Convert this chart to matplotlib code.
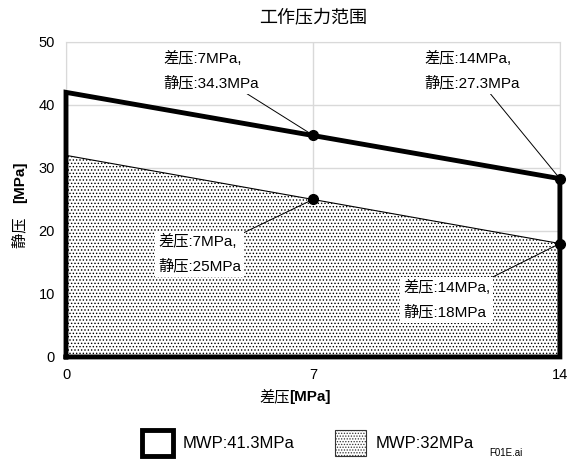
import matplotlib.pyplot as plt
import matplotlib.patches as mpatches
import numpy as np

plt.rcParams['font.family'] = ['Liberation Sans', 'Noto Sans CJK SC']
plt.rcParams['hatch.linewidth'] = 0.6

# data
DP = [0, 7, 14]                 # 差压 MPa
SP_HI = [42, 35.2, 28.3]        # MWP 41.3MPa line
SP_LO = [32, 25, 18]            # MWP 32MPa line
LABELS_HI = ['差压:7MPa,\n静压:34.3MPa', '差压:14MPa,\n静压:27.3MPa']
LABELS_LO = ['差压:7MPa,\n静压:25MPa', '差压:14MPa,\n静压:18MPa']
LEG = ['MWP:41.3MPa', 'MWP:32MPa']

H = 466
fig = plt.figure(figsize=(5.79, 4.66), dpi=100)
ax = fig.add_axes([0.114, 0.234, 0.853, 0.676])

ax.set_xlim(0, 14)
ax.set_ylim(0, 50)
ax.set_xticks([0, 7, 14])
ax.set_yticks(np.arange(0, 51, 10))
ax.tick_params(length=0, labelsize=10.5, pad=8)
ax.grid(color='#d9d9d9', linewidth=1)
ax.set_axisbelow(True)
for s in ax.spines.values():
    s.set_color('#d9d9d9')

# lower region, dotted
xs = [DP[0], DP[0], DP[2], DP[2]]
ys = [0, SP_LO[0], SP_LO[2], 0]
ax.fill(xs, ys, facecolor='white', edgecolor='black', lw=0, hatch='.....', zorder=2)
ax.plot([DP[0], DP[2]], [SP_LO[0], SP_LO[2]], color='black', lw=0.8, zorder=3)

# upper outline
ax.plot([DP[0], DP[0], DP[2], DP[2], DP[0]], [0, SP_HI[0], SP_HI[2], 0, 0],
        color='black', lw=3.5, solid_joinstyle='miter', clip_on=False, zorder=4)

ax.plot(DP[1:], SP_HI[1:], 'o', color='black', ms=7, clip_on=False, zorder=5)
ax.plot(DP[1:], SP_LO[1:], 'o', color='black', ms=7, clip_on=False, zorder=5)

box = dict(boxstyle='square,pad=0.2', facecolor='white', edgecolor='none')
ann = dict(fontsize=11, linespacing=1.8, ha='left', va='center', bbox=box, zorder=6,
           textcoords='figure pixels',
           arrowprops=dict(arrowstyle='-', color='black', lw=0.7, shrinkA=0, shrinkB=0))
ax.annotate(LABELS_HI[0], (DP[1], SP_HI[1]), xytext=(163, H - 71), **ann)
ax.annotate(LABELS_HI[1], (DP[2], SP_HI[2]), xytext=(424, H - 71), **ann)
ax.annotate(LABELS_LO[0], (DP[1], SP_LO[1]), xytext=(158, H - 254), **ann)
ax.annotate(LABELS_LO[1], (DP[2], SP_LO[2]), xytext=(403, H - 300), **ann)

ax.set_title('工作压力范围', fontsize=13, pad=14)

# axis labels: chinese normal + bold unit
fig.text(0.5, (H - 397) / H, '差压', fontsize=11, ha='right', va='center')
fig.text(0.5, (H - 397) / H, '[MPa]', fontsize=11, ha='left', va='center', fontweight='bold')
fig.text(0.035, 0.565, '静压　', fontsize=11, ha='center', va='top', rotation=90)
fig.text(0.035, 0.565, '[MPa]', fontsize=11, ha='center', va='bottom', rotation=90,
         fontweight='bold')

# legend
h1 = mpatches.Patch(facecolor='white', edgecolor='black', lw=3.5)
h2 = mpatches.Patch(facecolor='white', edgecolor='#333333', lw=0.8, hatch='......')
fig.legend([h1, h2], LEG, loc='lower center', bbox_to_anchor=(0.532, -0.01), ncol=2,
           frameon=False, fontsize=12, handlelength=1.85, handleheight=2.0,
           columnspacing=2.4, handletextpad=0.6)
fig.text(0.845, 0.022, 'F01E.ai', fontsize=7)

fig.savefig('out.png', dpi=100)
